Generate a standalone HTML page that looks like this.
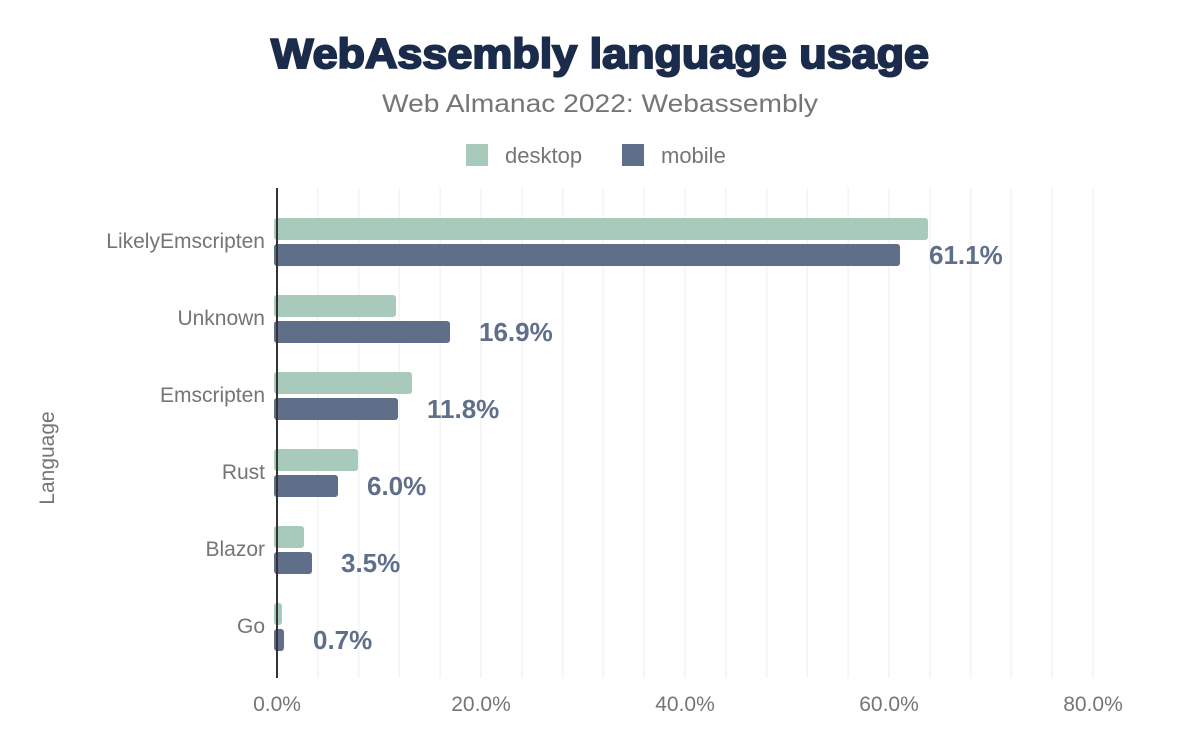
<!DOCTYPE html>
<html><head><style>
body{margin:0;background:#fff;}
svg text{font-family:"Liberation Sans",Arial,sans-serif;}
</style></head><body>
<svg width="1200" height="742" xmlns="http://www.w3.org/2000/svg">
<text x="600" y="68" text-anchor="middle" font-size="42" font-weight="900" fill="#1a2b4b" stroke="#1a2b4b" stroke-width="2" textLength="658" lengthAdjust="spacingAndGlyphs">WebAssembly language usage</text>
<text x="600" y="112" text-anchor="middle" font-size="25" fill="#757575" textLength="436" lengthAdjust="spacingAndGlyphs">Web Almanac 2022: Webassembly</text>
<rect x="466" y="144" width="22" height="22" fill="#a8cabb"/>
<text x="505" y="163" font-size="22" fill="#757575">desktop</text>
<rect x="622" y="144" width="22" height="22" fill="#5f6f8a"/>
<text x="661" y="163" font-size="22" fill="#757575">mobile</text>
<g stroke="#f3f3f5" stroke-width="1.5">
<line x1="317.8" y1="188" x2="317.8" y2="678"/><line x1="358.6" y1="188" x2="358.6" y2="678"/><line x1="399.4" y1="188" x2="399.4" y2="678"/><line x1="440.2" y1="188" x2="440.2" y2="678"/><line x1="481" y1="188" x2="481" y2="678"/><line x1="521.8" y1="188" x2="521.8" y2="678"/><line x1="562.6" y1="188" x2="562.6" y2="678"/><line x1="603.4" y1="188" x2="603.4" y2="678"/><line x1="644.2" y1="188" x2="644.2" y2="678"/><line x1="685" y1="188" x2="685" y2="678"/><line x1="725.8" y1="188" x2="725.8" y2="678"/><line x1="766.6" y1="188" x2="766.6" y2="678"/><line x1="807.4" y1="188" x2="807.4" y2="678"/><line x1="848.2" y1="188" x2="848.2" y2="678"/><line x1="889" y1="188" x2="889" y2="678"/><line x1="929.8" y1="188" x2="929.8" y2="678"/><line x1="970.6" y1="188" x2="970.6" y2="678"/><line x1="1011.4" y1="188" x2="1011.4" y2="678"/><line x1="1052.2" y1="188" x2="1052.2" y2="678"/><line x1="1093" y1="188" x2="1093" y2="678"/>
</g>
<g fill="#a8cabb">
<rect x="274" y="218" width="654" height="22" rx="3"/>
<rect x="274" y="295" width="122" height="22" rx="3"/>
<rect x="274" y="372" width="138" height="22" rx="3"/>
<rect x="274" y="449" width="84" height="22" rx="3"/>
<rect x="274" y="526" width="30" height="22" rx="3"/>
<rect x="274" y="603" width="8" height="22" rx="3"/>
</g>
<g fill="#5f6f8a">
<rect x="274" y="244" width="626" height="22" rx="3"/>
<rect x="274" y="321" width="176" height="22" rx="3"/>
<rect x="274" y="398" width="124" height="22" rx="3"/>
<rect x="274" y="475" width="64" height="22" rx="3"/>
<rect x="274" y="552" width="38" height="22" rx="3"/>
<rect x="274" y="629" width="10" height="22" rx="3"/>
</g>
<line x1="277" y1="188" x2="277" y2="678" stroke="#333" stroke-width="2"/>
<g font-size="26" font-weight="bold" fill="#5f6f8a">
<text x="929" y="264">61.1%</text>
<text x="479" y="341">16.9%</text>
<text x="427" y="418">11.8%</text>
<text x="367" y="495">6.0%</text>
<text x="341" y="572">3.5%</text>
<text x="313" y="649">0.7%</text>
</g>
<g font-size="21" fill="#757575" text-anchor="end">
<text x="265" y="248">LikelyEmscripten</text>
<text x="265" y="325">Unknown</text>
<text x="265" y="402">Emscripten</text>
<text x="265" y="479">Rust</text>
<text x="265" y="556">Blazor</text>
<text x="265" y="633">Go</text>
</g>
<g font-size="21" fill="#757575" text-anchor="middle">
<text x="277" y="711">0.0%</text>
<text x="481" y="711">20.0%</text>
<text x="685" y="711">40.0%</text>
<text x="889" y="711">60.0%</text>
<text x="1093" y="711">80.0%</text>
</g>
<text transform="translate(54,458) rotate(-90)" text-anchor="middle" font-size="21" fill="#757575">Language</text>
</svg>
</body></html>
